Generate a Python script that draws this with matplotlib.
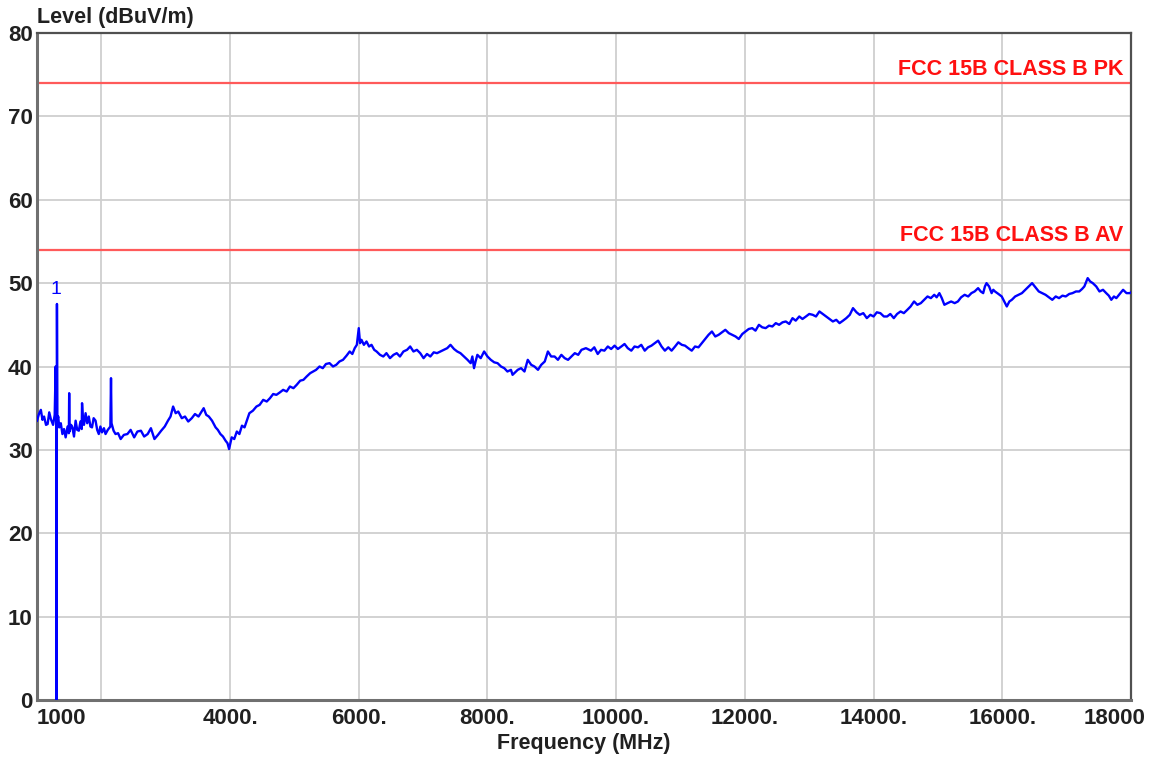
import matplotlib
matplotlib.use("Agg")
import matplotlib.pyplot as plt
import matplotlib.transforms as mtransforms

# limit lines (dBuV/m)
limit_names = ["FCC 15B CLASS B PK", "FCC 15B CLASS B AV"]
limit_levels = [74.0, 54.0]

# tick labels
x_ticks = [1000, 2000, 4000, 6000, 8000, 10000, 12000, 14000, 16000, 18000]
x_labels = ["1000", "", "4000.", "6000.", "8000.", "10000.", "12000.",
            "14000.", "16000.", "18000"]
y_ticks = [0, 10, 20, 30, 40, 50, 60, 70, 80]

# marker 1
marker_freq = 1305
marker_level = 47.5

freq_mhz = [
    1000, 1030, 1060, 1085, 1110, 1140, 1165, 1190, 1215, 1250, 1275, 1290, 1300, 1305, 1310, 1316,
    1330, 1345, 1370, 1395, 1420, 1445, 1475, 1495, 1500, 1506, 1530, 1550, 1575, 1600, 1625, 1650,
    1675, 1695, 1700, 1710, 1730, 1755, 1780, 1805, 1830, 1855, 1880, 1910, 1935, 1960, 1985, 2010,
    2040, 2065, 2100, 2140, 2150, 2158, 2190, 2220, 2260, 2300,
    2350, 2405, 2455, 2510, 2560, 2615, 2665, 2720, 2770, 2825, 2880, 2930, 2985, 3035, 3075, 3115,
    3155, 3195, 3250, 3300, 3350, 3405, 3455, 3510, 3550, 3590, 3630, 3670, 3720, 3775, 3810, 3850,
    3890, 3930, 3960, 3985, 4025, 4065, 4105, 4145, 4185, 4225, 4265, 4300, 4355, 4410, 4460, 4515,
    4570, 4620, 4670, 4720, 4775, 4825, 4880, 4930, 4985, 5035, 5090, 5140, 5190, 5245, 5290,
    5337, 5390, 5441, 5490, 5546, 5600, 5650, 5700, 5755, 5810, 5859, 5900, 5937, 5970, 6000, 6020,
    6042, 6080, 6120, 6160, 6198, 6240, 6277, 6330, 6381, 6430, 6485, 6540, 6590, 6640, 6694, 6750,
    6799, 6850, 6903, 6955, 7007, 7060, 7112, 7165, 7216, 7270, 7321, 7375, 7425, 7480, 7530, 7580,
    7634, 7690, 7739, 7765, 7791, 7815, 7843, 7895, 7948, 8000, 8052, 8105, 8157, 8210, 8261, 8310,
    8365, 8390, 8417, 8470, 8522, 8575, 8626, 8680, 8730, 8785, 8835, 8890, 8939, 8990, 9043, 9095,
    9148, 9200, 9252, 9305, 9357, 9410, 9461, 9530,
    9608, 9660, 9713, 9765, 9817, 9870, 9922, 9975, 10026, 10080, 10130, 10180, 10235, 10285, 10339, 10390,
    10444, 10495, 10548, 10600, 10652, 10705, 10757, 10810, 10861, 10915, 10966, 11020, 11070, 11120, 11174, 11225,
    11279, 11330, 11383, 11435, 11488, 11540, 11592, 11645, 11696, 11750, 11801, 11855, 11905, 11960, 12010, 12060,
    12114, 12165, 12218, 12270, 12323, 12375, 12427, 12480, 12532, 12585, 12636, 12690, 12740, 12790, 12845, 12895,
    12949, 13000, 13054, 13105, 13158, 13210, 13262, 13315, 13367, 13420, 13471, 13525, 13576, 13630, 13680, 13735,
    13784, 13840,
    13895, 13950, 14000, 14050, 14105, 14160, 14210, 14260, 14314, 14365, 14419, 14470, 14524, 14575, 14629, 14680,
    14734, 14785, 14838, 14890, 14943, 14980, 15022, 15060, 15100, 15150, 15205, 15260, 15310, 15360, 15415, 15470,
    15520, 15570, 15624, 15665, 15703, 15730, 15755, 15795, 15834, 15860, 15886, 15940, 15991, 16030, 16070, 16110,
    16148, 16200, 16253, 16305, 16358, 16410, 16463, 16515, 16567, 16620, 16672, 16725, 16777, 16830, 16882, 16935,
    16986, 17040, 17091, 17145, 17196, 17240, 17275, 17327, 17365, 17406, 17460, 17510, 17565, 17615, 17655, 17694,
    17735, 17772, 17825, 17877, 17930, 17982, 18000,
]
level_dbuv = [
    33.5, 34.3, 34.8, 33.6, 34.0, 33.0, 33.1, 34.5, 33.7, 33.0, 34.2, 40.0, 33.0, 0.0, 47.5, 33.5,
    34.0, 32.7, 33.2, 31.9, 32.5, 31.5, 32.8, 32.0, 36.8, 32.2, 33.0, 32.7, 31.6, 33.5, 32.4, 32.3,
    33.4, 32.5, 35.6, 34.2, 33.0, 34.4, 33.2, 34.0, 32.8, 32.7, 33.8, 33.5, 32.4, 31.9, 32.8, 32.1,
    32.6, 31.9, 32.4, 32.8, 38.6, 33.2, 32.3, 31.9, 32.0, 31.3,
    31.8, 31.9, 32.4, 31.5, 32.2, 32.3, 31.6, 31.9, 32.6, 31.3, 31.8, 32.3, 32.8, 33.5, 34.0, 35.2,
    34.4, 34.6, 33.8, 34.0, 33.4, 33.8, 34.3, 34.0, 34.5, 35.0, 34.2, 34.0, 33.5, 32.7, 32.4, 31.9,
    31.6, 31.1, 30.8, 30.1, 31.5, 31.3, 32.2, 31.9, 32.9, 32.7, 33.6, 34.4, 34.7, 35.2, 35.4, 36.0,
    35.8, 36.2, 36.7, 36.6, 36.9, 37.2, 37.0, 37.6, 37.4, 37.8, 38.3, 38.4, 38.8, 39.2, 39.4,
    39.6, 40.0, 39.8, 40.3, 40.4, 40.0, 40.2, 40.6, 40.8, 41.3, 41.8, 41.5, 42.2, 42.6, 44.6, 42.8,
    43.2, 42.6, 43.0, 42.4, 42.6, 42.0, 41.8, 41.4, 41.2, 41.6, 41.0, 41.4, 41.6, 41.2, 41.8, 42.0,
    42.4, 41.8, 42.0, 41.6, 41.0, 41.5, 41.2, 41.7, 41.6, 41.8, 42.0, 42.2, 42.6, 42.1, 41.8, 41.6,
    41.2, 40.8, 40.4, 41.2, 39.8, 40.6, 41.4, 41.0, 41.8, 41.2, 40.8, 40.5, 40.4, 40.0, 39.8, 39.4,
    39.6, 39.0, 39.2, 39.6, 39.8, 39.4, 40.8, 40.2, 40.0, 39.6, 40.2, 40.6, 41.8, 41.2, 41.2, 40.8,
    41.4, 41.0, 40.8, 41.2, 41.6, 41.4, 42.0, 42.2,
    41.9, 42.3, 41.5, 42.0, 41.9, 42.4, 42.1, 42.5, 42.1, 42.4, 42.7, 42.2, 41.9, 42.4, 42.3, 42.6,
    41.9, 42.3, 42.5, 42.8, 43.1, 42.4, 41.9, 42.3, 41.9, 42.4, 42.9, 42.6, 42.5, 42.2, 41.9, 42.4,
    42.3, 42.8, 43.3, 43.8, 44.2, 43.6, 43.8, 44.1, 44.4, 44.0, 43.8, 43.6, 43.3, 43.9, 44.2, 44.5,
    44.6, 44.3, 45.0, 44.7, 44.6, 44.9, 44.8, 45.2, 45.0, 45.3, 45.4, 45.1, 45.8, 45.5, 46.0, 45.7,
    46.0, 46.3, 46.2, 46.0, 46.6, 46.3, 46.0, 45.7, 45.4, 45.6, 45.2, 45.5, 45.8, 46.2, 47.0, 46.5,
    46.2, 46.4,
    45.8, 46.2, 46.0, 46.5, 46.4, 46.0, 46.0, 46.3, 45.8, 46.3, 46.6, 46.4, 46.8, 47.2, 47.8, 47.4,
    47.6, 48.0, 48.4, 48.2, 48.6, 48.3, 48.8, 48.2, 47.4, 47.6, 47.8, 47.6, 47.8, 48.3, 48.6, 48.4,
    48.8, 49.0, 49.4, 49.0, 48.8, 49.6, 50.0, 49.6, 48.8, 49.2, 49.0, 48.7, 48.4, 47.8, 47.2, 47.8,
    48.0, 48.4, 48.6, 48.8, 49.2, 49.6, 50.0, 49.5, 49.0, 48.8, 48.6, 48.3, 48.0, 48.4, 48.2, 48.5,
    48.4, 48.7, 48.8, 49.0, 49.0, 49.3, 49.6, 50.6, 50.2, 50.0, 49.6, 49.0, 49.2, 48.8, 48.5, 48.0,
    48.4, 48.2, 48.7, 49.2, 48.8, 48.8, 48.9,
]

plt.rcParams['font.family'] = ['Liberation Sans', 'DejaVu Sans']

fig = plt.figure(figsize=(11.57, 7.63), dpi=100)
ax = fig.add_axes([37 / 1157, 1 - 700 / 763, (1131 - 37) / 1157, (700 - 33) / 763])

ax.set_xlim(1000, 18000)
ax.set_ylim(0, 80)

ax.set_xticks(x_ticks)
ax.set_xticklabels(x_labels)
ax.set_yticks(y_ticks)
ax.tick_params(axis='y', length=0, labelsize=16, pad=3)
ax.tick_params(axis='x', length=0, labelsize=16, pad=6)
for lab in ax.get_xticklabels() + ax.get_yticklabels():
    lab.set_fontweight('bold')
    lab.set_color('#202020')

# endpoint labels sit inside the range
xl = ax.get_xticklabels()
xl[0].set_ha('left')
xl[-1].set_transform(xl[-1].get_transform() +
                     mtransforms.ScaledTranslation(-0.16, 0, fig.dpi_scale_trans))

ax.grid(True, color='#cfcfcf', linewidth=1.3)
ax.set_axisbelow(True)
for side in ['left', 'bottom']:
    ax.spines[side].set_color('#707070')
    ax.spines[side].set_linewidth(2.2)
for side in ['top', 'right']:
    ax.spines[side].set_color('#505050')
    ax.spines[side].set_linewidth(1.6)

for name, lvl in zip(limit_names, limit_levels):
    ax.axhline(lvl, color='#ff5a5a', linewidth=1.6, zorder=2)
    ax.text(17880, lvl + 0.4, name, color='#ff1010', fontsize=15.5,
            fontweight='bold', ha='right', va='bottom')

ax.plot(freq_mhz, level_dbuv, color='#0000ff', linewidth=1.7, zorder=3)
ax.text(marker_freq - 5, marker_level + 0.7, "1", color='#0000ff',
        fontsize=14, ha='center', va='bottom')

fig.text(37 / 1157, 1 - 18 / 763, "Level (dBuV/m)", fontsize=15.5,
         fontweight='bold', color='#202020', ha='left', va='center')
ax.set_xlabel("Frequency (MHz)", fontsize=15.5, fontweight='bold',
              color='#202020', labelpad=3)

fig.savefig("out.png", dpi=100, facecolor='white')
